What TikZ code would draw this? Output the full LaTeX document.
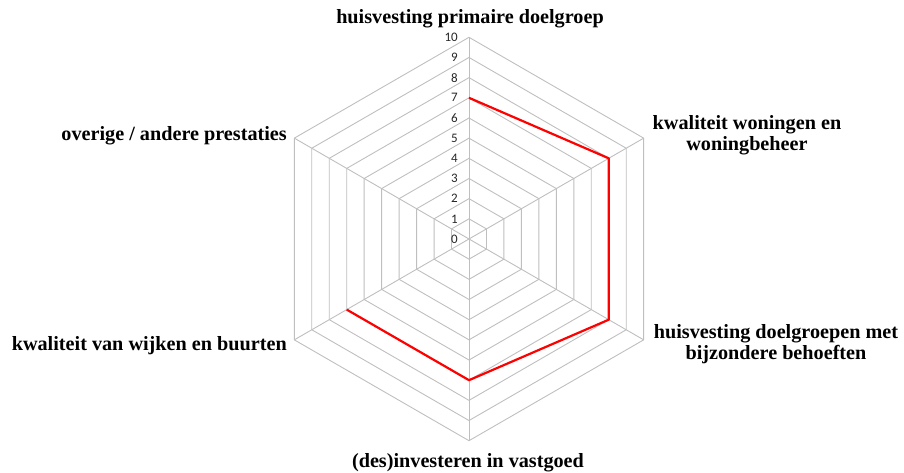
\documentclass[tikz,border=0pt]{standalone}
\usepackage{fontspec}
\setmainfont{Liberation Serif}
\newfontfamily\tickfont{Carlito}
\begin{document}
\begin{tikzpicture}[x=1pt,y=1pt,
  gridline/.style={draw=black!25, line width=0.9pt},
  series/.style={draw=red, line width=2.2pt, line join=round},
  axislabel/.style={font=\bfseries\fontsize{20.2}{20.7}\selectfont, align=center, inner sep=0pt},
  ticklabel/.style={font=\tickfont\fontsize{13}{13}\selectfont, anchor=east, inner sep=0pt, text=black!85}]
\useasboundingbox (-469,-234) rectangle (435,239);
\def\u{20.17}
\foreach \k in {1,...,10}{
  \draw[gridline] (90:{\k*\u}) -- (30:{\k*\u}) -- (-30:{\k*\u}) -- (-90:{\k*\u}) -- (-150:{\k*\u}) -- (150:{\k*\u}) -- cycle;
}
\foreach \a in {90,30,-30,-90,-150,150}{
  \draw[gridline] (0,0) -- (\a:{10*\u});
}
\foreach \k in {0,...,10}{
  \node[ticklabel] (t\k) at (-11,{\k*\u}) {\k};
}
\coordinate (v1) at (90:{7*\u});
\coordinate (v2) at (30:{8*\u});
\coordinate (v3) at (-30:{8*\u});
\coordinate (v4) at (-90:{7*\u});
\coordinate (v5) at (-150:{7*\u});
\draw[series] (v1) -- (v2) -- (v3) -- (v4) -- (v5);
\node[axislabel] (top) at (1,220) {huisvesting primaire doelgroep};
\node[axislabel] (ur) at (278,104) {kwaliteit woningen en\\woningbeheer};
\node[axislabel] (lr) at (307,-105) {huisvesting doelgroepen met\\bijzondere behoeften};
\node[axislabel, anchor=east] (ul) at (-182,103) {overige / andere prestaties};
\node[axislabel, anchor=east] (ll) at (-182,-107) {kwaliteit van wijken en buurten};
\node[axislabel] (bot) at (-1,-224) {(des)investeren in vastgoed};
\end{tikzpicture}
\end{document}
